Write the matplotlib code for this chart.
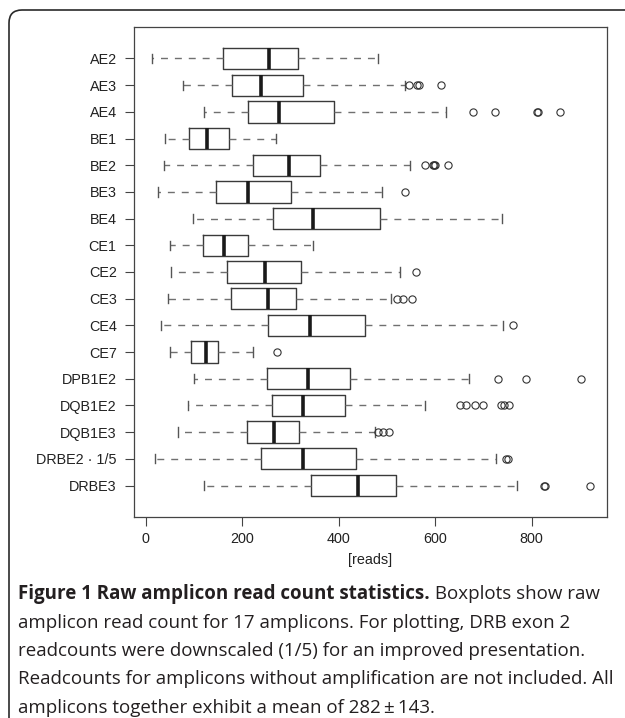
"""Raw amplicon read count boxplots (Figure 1 style, with caption)."""

import matplotlib
matplotlib.use("Agg")
import matplotlib.pyplot as plt
from matplotlib.patches import FancyBboxPatch

W, H = 625, 718   # output size in px at dpi 100

LABELS = ["AE2", "AE3", "AE4", "BE1", "BE2", "BE3", "BE4", "CE1", "CE2",
          "CE3", "CE4", "CE7", "DPB1E2", "DQB1E2", "DQB1E3",
          "DRBE2 \u00b7 1/5", "DRBE3"]
WHIS_LO = [13, 78, 120, 41, 37, 26, 99, 50, 52, 47, 31, 50, 100, 88, 68, 19, 120]
Q1 = [160, 178, 213, 90, 223, 146, 263, 119, 168, 176, 254, 93, 251, 261,
      211, 238, 343]
MED = [256, 240, 276, 127, 296, 213, 347, 162, 247, 253, 341, 124, 336, 327,
       265, 325, 439]
Q3 = [316, 325, 391, 172, 362, 302, 486, 213, 321, 312, 455, 149, 423, 414,
      318, 435, 519]
WHIS_HI = [481, 537, 622, 271, 548, 490, 739, 347, 527, 508, 741, 223, 671,
           578, 475, 727, 770]
FLIERS = [
    [],
    [546, 563, 567, 611],
    [678, 723, 810, 814, 859],
    [],
    [578, 595, 598, 600, 627],
    [537],
    [],
    [],
    [560],
    [520, 533, 551],
    [761],
    [272],
    [730, 789, 902],
    [651, 664, 683, 700, 736, 743, 752],
    [482, 492, 504],
    [747, 751],
    [825, 828, 920],
]
X_TICKS = [0, 200, 400, 600, 800]

CAPTION_BOLD = "Figure 1 Raw amplicon read count statistics."
CAPTION_LINES = [
    " Boxplots show raw",
    "amplicon read count for 17 amplicons. For plotting, DRB exon 2",
    "readcounts were downscaled (1/5) for an improved presentation.",
    "Readcounts for amplicons without amplification are not included. All",
    "amplicons together exhibit a mean of 282\u2009\u00b1\u2009143.",
]

plt.rcParams["font.family"] = ["Liberation Sans", "DejaVu Sans"]

fig = plt.figure(figsize=(W / 100, H / 100), dpi=100)
fig.patch.set_facecolor("white")

# plot region in pixel terms: x 134..607, y 27..517 (from top)
ax = fig.add_axes([134 / W, 1 - 517 / H, (607 - 134) / W, (517 - 27) / H])

stats = [dict(label=lab, whislo=lo, q1=a, med=m, q3=b, whishi=hi, fliers=fl)
         for lab, lo, a, m, b, hi, fl in zip(LABELS, WHIS_LO, Q1, MED, Q3,
                                               WHIS_HI, FLIERS)]
ax.bxp(stats, positions=range(len(stats)), widths=0.8, capwidths=0.35,
       orientation="horizontal", showfliers=True,
       boxprops=dict(color="#3a3a3a", linewidth=1.0),
       whiskerprops=dict(color="#707070", linewidth=1.0,
                         linestyle=(0, (5, 5))),
       capprops=dict(color="#555555", linewidth=1.0),
       medianprops=dict(color="#1a1a1a", linewidth=2.6, solid_capstyle="butt"),
       flierprops=dict(marker="o", markerfacecolor="none",
                       markeredgecolor="#333333", markersize=5.2,
                       markeredgewidth=0.8))

ax.set_ylim(len(LABELS) - 1 + 1.18, -1.18)
ax.set_xlim(-24.2, 956)
ax.set_xticks(X_TICKS)
ax.set_xlabel("[reads]", fontsize=10.4, color="#222222", labelpad=5)
ax.tick_params(axis="both", length=6.5, width=0.8, color="#444444",
               labelsize=10.4, labelcolor="#222222")
ax.tick_params(axis="y", pad=6)
ax.tick_params(axis="x", pad=4)
for sp in ax.spines.values():
    sp.set_color("#444444")
    sp.set_linewidth(0.9)

# rounded caption frame, cut off by the right and bottom image edge
frame = FancyBboxPatch((0.09, -0.5), 7.5, 7.08 + 0.5,
                       boxstyle="round,pad=0,rounding_size=0.13",
                       transform=fig.dpi_scale_trans, facecolor="none",
                       edgecolor="#2a2a2a", linewidth=1.2)
fig.add_artist(frame)

# caption: size fitted so the longest line ends just short of the right edge
renderer = fig.canvas.get_renderer()
probe = fig.text(0, 0, CAPTION_LINES[3], family="Open Sans", fontsize=12)
size = 12 * 592 / probe.get_window_extent(renderer).width
probe.remove()

x0 = 18 / W
line_y = [594, 622.5, 651, 679.5, 708]
bold = fig.text(x0, 1 - line_y[0] / H, CAPTION_BOLD, family="Open Sans",
                fontsize=size, fontweight="bold", color="#231f20",
                va="center")
bw = bold.get_window_extent(renderer).width
fig.text(x0 + bw / W, 1 - line_y[0] / H, CAPTION_LINES[0],
         family="Open Sans", fontsize=size, color="#231f20", va="center")
for txt, y in zip(CAPTION_LINES[1:], line_y[1:]):
    fig.text(x0, 1 - y / H, txt, family="Open Sans", fontsize=size,
             color="#231f20", va="center")

fig.savefig("out.png", dpi=100)
